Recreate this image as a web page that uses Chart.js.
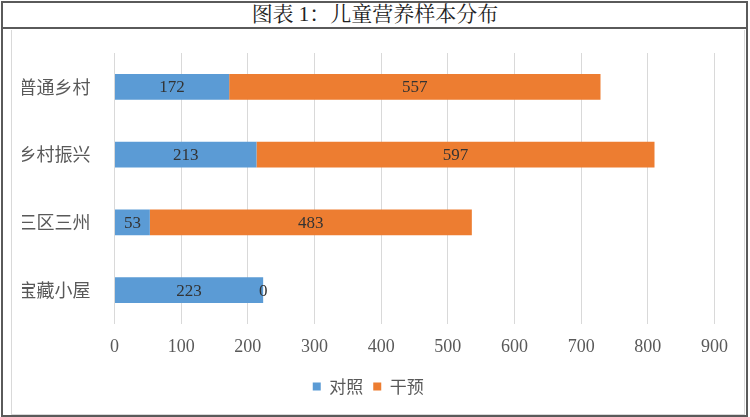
<!DOCTYPE html>
<html>
<head>
<meta charset="utf-8">
<script src="https://cdn.jsdelivr.net/npm/chart.js@4"></script>
<style>
  html, body { margin: 0; padding: 0; background: #fff; }
  #page { position: relative; width: 750px; height: 417px; overflow: hidden; }
  #outer { position: absolute; left: 1px; top: 1px; width: 747px; height: 416px; box-sizing: border-box; border: 2px solid #5a5a5a; }
  #sep { position: absolute; left: 1px; top: 27px; width: 747px; height: 2px; background: #5a5a5a; }
  #inner { position: absolute; left: 11px; top: 30px; width: 734px; height: 385px; box-sizing: border-box; border: 1px solid #d9d9d9; border-top: none; }
  #title { position: absolute; left: 0; top: 2px; width: 750px; height: 25px; line-height: 25px; text-align: center;
           font-family: "Liberation Serif", "Noto Serif CJK SC", "Noto Sans CJK SC", serif; font-size: 21px; color: #222; }
  #chart { position: absolute; left: 22px; top: 0; }
</style>
</head>
<body>
<div id="page">
  <div id="inner"></div>
  <div id="outer"></div>
  <div id="sep"></div>
  <div id="title">图表 1：儿童营养样本分布</div>
  <canvas id="chart" width="728" height="417"></canvas>
</div>
<script>
const categories = ["普通乡村", "乡村振兴", "三区三州", "宝藏小屋"];
const controlValues = [172, 213, 53, 223];
const interventionValues = [557, 597, 483, 0];
const seriesNames = ["对照", "干预"];

// write the value in the middle of each bar piece
const barLabels = {
  id: "barLabels",
  afterDatasetsDraw(chart) {
    const ctx = chart.ctx;
    ctx.save();
    ctx.font = "17px 'Liberation Serif', serif";
    ctx.fillStyle = "#333333";
    ctx.textAlign = "center";
    ctx.textBaseline = "middle";
    chart.data.datasets.forEach((ds, i) => {
      chart.getDatasetMeta(i).data.forEach((bar, j) => {
        ctx.fillText(ds.data[j], (bar.x + bar.base) / 2, bar.y + 1);
      });
    });
    ctx.restore();
  }
};

const ctx = document.getElementById("chart").getContext("2d");
new Chart(ctx, {
  type: "bar",
  data: {
    labels: categories,
    datasets: [
      {
        label: seriesNames[0],
        data: controlValues,
        backgroundColor: "#5b9bd5",
        categoryPercentage: 1,
        barPercentage: 0.38,
      },
      {
        label: seriesNames[1],
        data: interventionValues,
        backgroundColor: "#ed7d31",
        categoryPercentage: 1,
        barPercentage: 0.38,
      },
    ],
  },
  options: {
    indexAxis: "y",
    responsive: false,
    animation: false,
    layout: { padding: { top: 53, right: 35.5, left: 0, bottom: 12 } },
    scales: {
      x: {
        stacked: true,
        min: 0,
        max: 900,
        ticks: {
          stepSize: 100,
          padding: 12,
          color: "#595959",
          font: { family: "'Liberation Serif', serif", size: 18 },
        },
        grid: { color: "#d9d9d9", drawTicks: false },
        border: { display: false },
        afterFit(scale) { scale.height = 44; },
      },
      y: {
        stacked: true,
        ticks: {
          padding: 16,
          color: "#595959",
          font: { family: "'Noto Sans CJK SC', sans-serif", size: 18 },
        },
        grid: { display: false },
        border: { display: false },
        afterFit(scale) { scale.width = 92.5; },
      },
    },
    plugins: {
      legend: {
        position: "bottom",
        labels: {
          boxWidth: 8,
          boxHeight: 8,
          padding: 10,
          color: "#595959",
          font: { family: "'Noto Sans CJK SC', sans-serif", size: 17 },
        },
      },
      tooltip: { enabled: false },
    },
  },
  plugins: [barLabels],
});
</script>
</body>
</html>
